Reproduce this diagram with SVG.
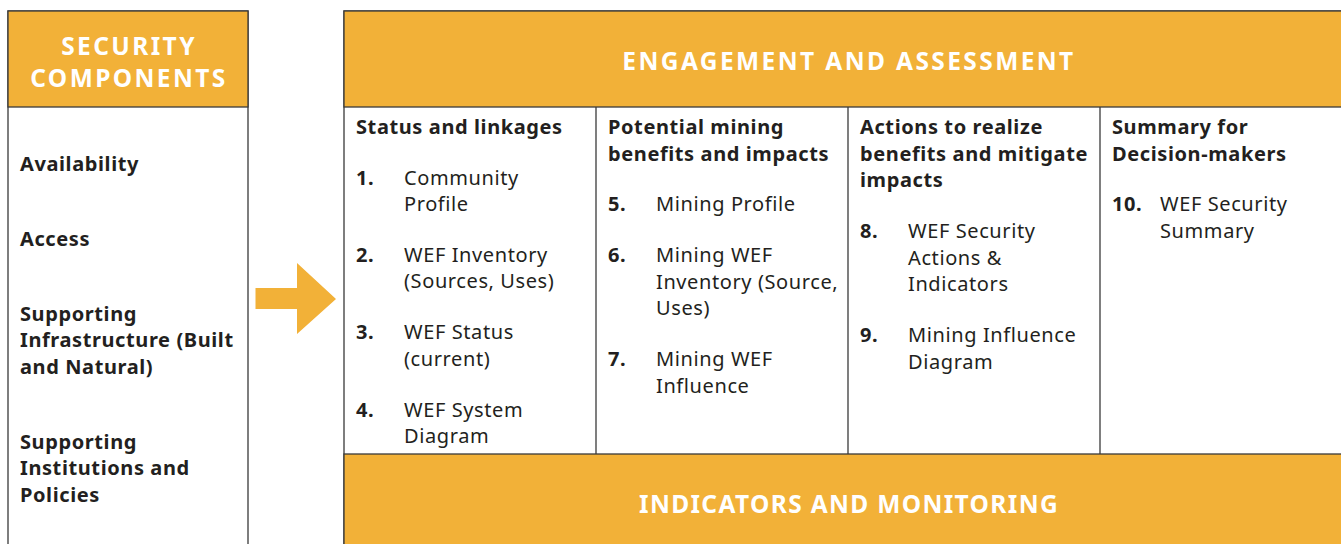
<svg xmlns="http://www.w3.org/2000/svg" width="1341" height="544" viewBox="0 0 1341 544">
<style>
.hdr{fill:#F2B138;stroke:#3a3a3a;stroke-width:1.3}
.box{fill:#fff;stroke:#3a3a3a;stroke-width:1.3}
.ln{stroke:#3a3a3a;stroke-width:1.3;fill:none}
.ht{font-family:"Noto Sans","DejaVu Sans",sans-serif;font-weight:700;fill:#fff;font-size:24.5px;letter-spacing:2.4px;text-anchor:middle}
.b{font-family:"Noto Sans","DejaVu Sans",sans-serif;font-weight:700;fill:#231f20;font-size:20px;letter-spacing:0.6px}
.r{font-family:"Noto Sans","DejaVu Sans",sans-serif;font-weight:400;fill:#231f20;font-size:20px;letter-spacing:0.6px}
</style>
<rect width="1341" height="544" fill="#fff"/>
<g id="security-components">
<rect class="box" x="8" y="11" width="240" height="545"/>
<rect class="hdr" x="8" y="11" width="240" height="96"/>
<text class="ht" x="129" y="55">SECURITY</text>
<text class="ht" x="129" y="87">COMPONENTS</text>
<text class="b" x="20" y="171">Availability</text>
<text class="b" x="20" y="246">Access</text>
<text class="b" x="20" y="321">Supporting</text>
<text class="b" x="20" y="347">Infrastructure (Built</text>
<text class="b" x="20" y="374">and Natural)</text>
<text class="b" x="20" y="449">Supporting</text>
<text class="b" x="20" y="475">Institutions and</text>
<text class="b" x="20" y="502">Policies</text>
</g>
<g id="connectors">
<polygon points="255.5,288 297,288 297,263 336,299 297,334 297,309 255.5,309" fill="#F2B138"/>
</g>
<g id="engagement-assessment">
<rect class="box" x="344" y="11" width="1010" height="545"/>
<rect class="hdr" x="344" y="11" width="1010" height="96"/>
<text class="ht" x="849" y="70">ENGAGEMENT AND ASSESSMENT</text>
<line class="ln" x1="596" y1="107" x2="596" y2="454"/>
<line class="ln" x1="848" y1="107" x2="848" y2="454"/>
<line class="ln" x1="1100" y1="107" x2="1100" y2="454"/>
</g>
<g id="col-status">
<text class="b" x="356" y="134">Status and linkages</text>
<text class="b" x="356" y="185">1.</text>
<text class="r" x="404" y="185">Community</text>
<text class="r" x="404" y="211">Profile</text>
<text class="b" x="356" y="262">2.</text>
<text class="r" x="404" y="262">WEF Inventory</text>
<text class="r" x="404" y="288">(Sources, Uses)</text>
<text class="b" x="356" y="339">3.</text>
<text class="r" x="404" y="339">WEF Status</text>
<text class="r" x="404" y="366">(current)</text>
<text class="b" x="356" y="417">4.</text>
<text class="r" x="404" y="417">WEF System</text>
<text class="r" x="404" y="443">Diagram</text>
</g>
<g id="col-potential">
<text class="b" x="608" y="134">Potential mining</text>
<text class="b" x="608" y="161">benefits and impacts</text>
<text class="b" x="608" y="211">5.</text>
<text class="r" x="656" y="211">Mining Profile</text>
<text class="b" x="608" y="262">6.</text>
<text class="r" x="656" y="262">Mining WEF</text>
<text class="r" x="656" y="289">Inventory (Source,</text>
<text class="r" x="656" y="315">Uses)</text>
<text class="b" x="608" y="366">7.</text>
<text class="r" x="656" y="366">Mining WEF</text>
<text class="r" x="656" y="393">Influence</text>
</g>
<g id="col-actions">
<text class="b" x="860" y="134">Actions to realize</text>
<text class="b" x="860" y="161">benefits and mitigate</text>
<text class="b" x="860" y="187">impacts</text>
<text class="b" x="860" y="238">8.</text>
<text class="r" x="908" y="238">WEF Security</text>
<text class="r" x="908" y="265">Actions &amp;</text>
<text class="r" x="908" y="291">Indicators</text>
<text class="b" x="860" y="342">9.</text>
<text class="r" x="908" y="342">Mining Influence</text>
<text class="r" x="908" y="369">Diagram</text>
</g>
<g id="col-summary">
<text class="b" x="1112" y="134">Summary for</text>
<text class="b" x="1112" y="161">Decision-makers</text>
<text class="b" x="1112" y="211">10.</text>
<text class="r" x="1160" y="211">WEF Security</text>
<text class="r" x="1160" y="238">Summary</text>
</g>
<g id="indicators-monitoring">
<rect class="hdr" x="344" y="454" width="1010" height="102"/>
<text class="ht" x="849" y="513" style="letter-spacing:1.35px">INDICATORS AND MONITORING</text>
</g>
</svg>
